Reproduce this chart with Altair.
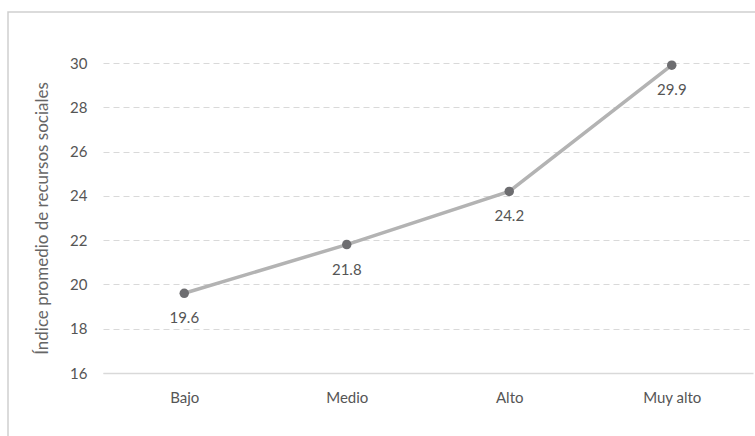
import altair as alt
import pandas as pd

categories = ["Bajo", "Medio", "Alto", "Muy alto"]
values = [19.6, 21.8, 24.2, 29.9]
y_ticks = [16, 18, 20, 22, 24, 26, 28, 30]

df = pd.DataFrame({"cat": categories, "val": values, "label": [f"{v:.1f}" for v in values]})

FONT = "Lato"

x = alt.X("cat:N", sort=categories, title=None,
          scale=alt.Scale(type="point", padding=0.5),
          axis=alt.Axis(labelAngle=0, labelFontSize=15, labelColor="#555555", labelFont=FONT,
                        ticks=False, domain=True, domainColor="#d9d9d9", domainWidth=1.5,
                        labelPadding=17, grid=False))
y = alt.Y("val:Q", title="Índice promedio de recursos sociales",
          scale=alt.Scale(domain=[16, 30], nice=False, zero=False),
          axis=alt.Axis(values=y_ticks, labelFontSize=15, labelColor="#555555", labelFont=FONT,
                        ticks=False, domain=False, grid=True, gridColor="#d9d9d9",
                        gridDash=[6, 4], gridWidth=1, labelPadding=16,
                        titleFontSize=17, titleFont=FONT, titleColor="#666666",
                        titleFontWeight="normal", titlePadding=18))

base = alt.Chart(df)

border = alt.Chart(pd.DataFrame({"a": [0]})).mark_rect(
    fill=None, stroke="#cfcfcf", strokeWidth=1.5, clip=False
).encode(x=alt.value(-95), x2=alt.value(680), y=alt.value(-51), y2=alt.value(400))

line = base.mark_line(color="#b3b3b3", strokeWidth=3.5).encode(x=x, y=y)
points = base.mark_circle(color="#6d6d70", size=90, opacity=1).encode(x=x, y=y)
labels = base.mark_text(dy=25, fontSize=15, font=FONT, color="#555555").encode(
    x=x, y=y, text="label:N")

chart = alt.layer(border, line, points, labels).properties(
    width=650, height=310,
    background="white",
    autosize=alt.AutoSizeParams(type="none"),
    padding={"left": 103, "top": 63, "right": 2, "bottom": 63},
).configure_view(stroke=None, strokeWidth=0)

chart.save("out.html", embed_options={"renderer": "svg", "actions": False})
